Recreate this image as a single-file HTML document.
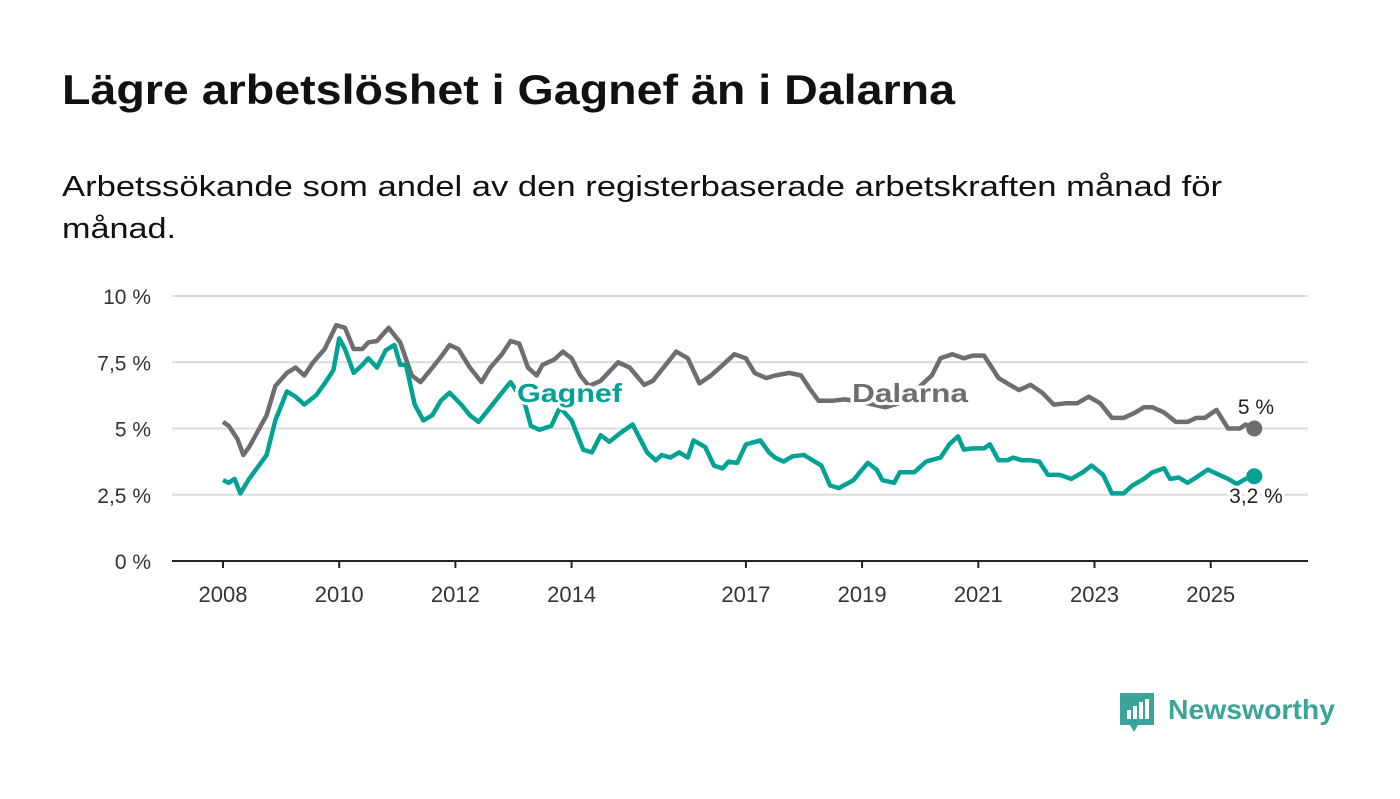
<!DOCTYPE html>
<html><head><meta charset="utf-8"><style>
body{margin:0;background:#fff;width:1400px;height:794px;overflow:hidden;font-family:"Liberation Sans","DejaVu Sans",sans-serif}
svg text{font-family:"Liberation Sans","DejaVu Sans",sans-serif}
</style></head><body>
<svg id="c" width="1400" height="794">
<text x="62" y="104" font-size="42" font-weight="bold" fill="#111" textLength="893" lengthAdjust="spacingAndGlyphs">Lägre arbetslöshet i Gagnef än i Dalarna</text>
<text x="62" y="196" font-size="29" fill="#111" textLength="1160" lengthAdjust="spacingAndGlyphs">Arbetssökande som andel av den registerbaserade arbetskraften månad för</text>
<text x="62" y="238" font-size="29" fill="#111" textLength="114" lengthAdjust="spacingAndGlyphs">månad.</text>
<g id="grid"></g><g id="lines"></g><g id="labels"></g>
<g>
<path d="M1120 693h34v32h-16l-4 7-4-7h-10z" fill="#3aa39a"/>
<rect x="1127" y="710" width="4" height="9" fill="#fff"/><rect x="1133" y="706" width="4" height="13" fill="#fff"/><rect x="1139" y="702" width="4" height="17" fill="#fff"/><rect x="1145" y="699" width="4" height="20" fill="#fff"/>
<text x="1168" y="719" font-size="28" font-weight="bold" fill="#3aa39a" textLength="167" lengthAdjust="spacingAndGlyphs">Newsworthy</text></g>
</svg>
<script>
const yTicks=[0,2.5,5,7.5,10];
const yTickLabels=["0 %","2,5 %","5 %","7,5 %","10 %"];
const xTicks=[2008,2010,2012,2014,2017,2019,2021,2023,2025];
const dDates=[2008,2008.1,2008.25,2008.35,2008.45,2008.6,2008.75,2008.9,2009.1,2009.25,2009.4,2009.55,2009.75,2009.95,2010.1,2010.25,2010.4,2010.5,2010.65,2010.85,2011.05,2011.25,2011.4,2011.55,2011.75,2011.9,2012.05,2012.25,2012.45,2012.6,2012.8,2012.95,2013.1,2013.25,2013.4,2013.5,2013.7,2013.85,2014,2014.15,2014.3,2014.5,2014.8,2015,2015.25,2015.4,2015.6,2015.8,2016,2016.2,2016.4,2016.6,2016.8,2017,2017.15,2017.35,2017.5,2017.75,2017.95,2018.1,2018.25,2018.5,2018.7,2019,2019.4,2019.7,2020,2020.2,2020.35,2020.55,2020.75,2020.9,2021.1,2021.35,2021.5,2021.7,2021.9,2022.1,2022.3,2022.5,2022.7,2022.9,2023.1,2023.3,2023.5,2023.7,2023.85,2024,2024.2,2024.4,2024.6,2024.75,2024.9,2025.1,2025.3,2025.5,2025.6,2025.75];
const dalarna=[5.25,5.1,4.6,4.0,4.3,4.9,5.5,6.6,7.1,7.3,7.0,7.5,8.0,8.9,8.8,8.0,8.0,8.25,8.3,8.8,8.25,7.0,6.75,7.15,7.7,8.15,8.0,7.3,6.75,7.3,7.8,8.3,8.2,7.3,7.0,7.4,7.6,7.9,7.65,7.0,6.6,6.8,7.5,7.3,6.65,6.8,7.35,7.9,7.65,6.7,7.0,7.4,7.8,7.65,7.1,6.9,7.0,7.1,7.0,6.5,6.05,6.05,6.1,6.0,5.8,6.0,6.6,7.0,7.65,7.8,7.65,7.75,7.75,6.9,6.7,6.45,6.65,6.35,5.9,5.95,5.95,6.2,5.95,5.4,5.4,5.6,5.8,5.8,5.6,5.25,5.25,5.4,5.4,5.7,5.0,5.0,5.15,5.0];
const gDates=[2008,2008.1,2008.2,2008.3,2008.45,2008.6,2008.75,2008.9,2009.1,2009.25,2009.4,2009.6,2009.75,2009.9,2010,2010.1,2010.25,2010.4,2010.5,2010.65,2010.8,2010.95,2011.05,2011.15,2011.3,2011.45,2011.6,2011.75,2011.9,2012.1,2012.25,2012.4,2012.6,2012.8,2012.95,2013.2,2013.3,2013.45,2013.65,2013.8,2014,2014.2,2014.35,2014.5,2014.65,2014.85,2015.05,2015.3,2015.45,2015.55,2015.7,2015.85,2016,2016.1,2016.3,2016.45,2016.6,2016.7,2016.85,2017,2017.25,2017.4,2017.5,2017.65,2017.8,2018,2018.15,2018.3,2018.45,2018.6,2018.85,2019,2019.1,2019.25,2019.35,2019.55,2019.65,2019.9,2020.1,2020.35,2020.5,2020.65,2020.75,2020.9,2021.1,2021.2,2021.35,2021.5,2021.6,2021.75,2021.9,2022.05,2022.2,2022.4,2022.6,2022.8,2022.95,2023.15,2023.3,2023.5,2023.65,2023.85,2024,2024.2,2024.3,2024.45,2024.6,2024.75,2024.95,2025.15,2025.3,2025.45,2025.6,2025.75];
const gagnef=[3.05,2.95,3.1,2.55,3.1,3.55,4.0,5.3,6.4,6.2,5.9,6.25,6.7,7.2,8.4,8.0,7.1,7.4,7.65,7.3,7.95,8.15,7.4,7.4,5.9,5.3,5.5,6.05,6.35,5.9,5.5,5.25,5.8,6.35,6.75,5.9,5.1,4.95,5.1,5.8,5.3,4.2,4.1,4.75,4.5,4.85,5.15,4.1,3.8,4.0,3.9,4.1,3.9,4.55,4.3,3.6,3.5,3.75,3.7,4.4,4.55,4.1,3.9,3.75,3.95,4.0,3.8,3.6,2.85,2.75,3.05,3.45,3.7,3.45,3.05,2.95,3.35,3.35,3.75,3.9,4.4,4.7,4.2,4.25,4.25,4.4,3.8,3.8,3.9,3.8,3.8,3.75,3.25,3.25,3.1,3.35,3.6,3.25,2.55,2.55,2.85,3.1,3.35,3.5,3.1,3.15,2.95,3.15,3.45,3.25,3.1,2.9,3.1,3.2];
const NS="http://www.w3.org/2000/svg";
const X0=172,X1=1308,Y0=561,Y1=296;
const xs=v=>223+(v-2008)*58.1;
const ys=v=>Y0-(v/10)*(Y0-Y1);
function mk(t,a,p){const e=document.createElementNS(NS,t);for(const k in a)e.setAttribute(k,a[k]);p.appendChild(e);return e;}
const fmt=v=>String(Math.round(v*10)/10).replace('.',',')+' %';
const grid=document.getElementById('grid');
yTicks.forEach((t,i)=>{
 const l=mk('line',{x1:X0,x2:X1,y1:ys(t),y2:ys(t),stroke:t===0?'#222':'#dcdcdc','stroke-width':2},grid);
 
 
 const tx=mk('text',{x:151,y:ys(t)+8,'text-anchor':'end','font-size':21,fill:'#333'},grid);
 tx.textContent=yTickLabels[i];
 
 
});
xTicks.forEach(t=>{
 const l=mk('line',{x1:xs(t),x2:xs(t),y1:Y0,y2:Y0+7,stroke:'#222','stroke-width':2},grid);
 
 
 const tx=mk('text',{x:xs(t),y:602,'text-anchor':'middle','font-size':22,fill:'#333'},grid);
 tx.textContent=t;
 
 
});
const lines=document.getElementById('lines');
function series(d,v,col,name){
 const p=mk('path',{d:d.map((x,i)=>(i?'L':'M')+xs(x).toFixed(1)+' '+ys(v[i]).toFixed(1)).join(''),fill:'none',stroke:col,'stroke-width':4.5,'stroke-linejoin':'round'},lines);
 
 
 const c=mk('circle',{cx:xs(d[d.length-1]),cy:ys(v[v.length-1]),r:8,fill:col},lines);
 
 
}
series(dDates,dalarna,'#6d6d72','dalarna');
series(gDates,gagnef,'#00a393','gagnef');
const lab=document.getElementById('labels');
function label(x,y,txt,col,sz,bold,name,anchor,len){
 const a={x:x,y:y,'font-size':sz,'font-weight':bold?'bold':'normal',fill:col,stroke:'#fff','stroke-width':6,'paint-order':'stroke','text-anchor':anchor||'start'};
 if(len){a.textLength=len;a.lengthAdjust='spacingAndGlyphs';}
 const t=mk('text',a,lab);
 t.textContent=txt;
 
 
}
label(517,402,'Gagnef','#00a393',26,true,'gagnef-label',null,105);
label(852,402,'Dalarna','#6d6d72',26,true,'dalarna-label',null,116);
label(1256,414,fmt(dalarna[dalarna.length-1]),'#222',21,false,'dalarna-end-value','middle');
label(1256,503,fmt(gagnef[gagnef.length-1]),'#222',21,false,'gagnef-end-value','middle');
</script>
</body></html>
